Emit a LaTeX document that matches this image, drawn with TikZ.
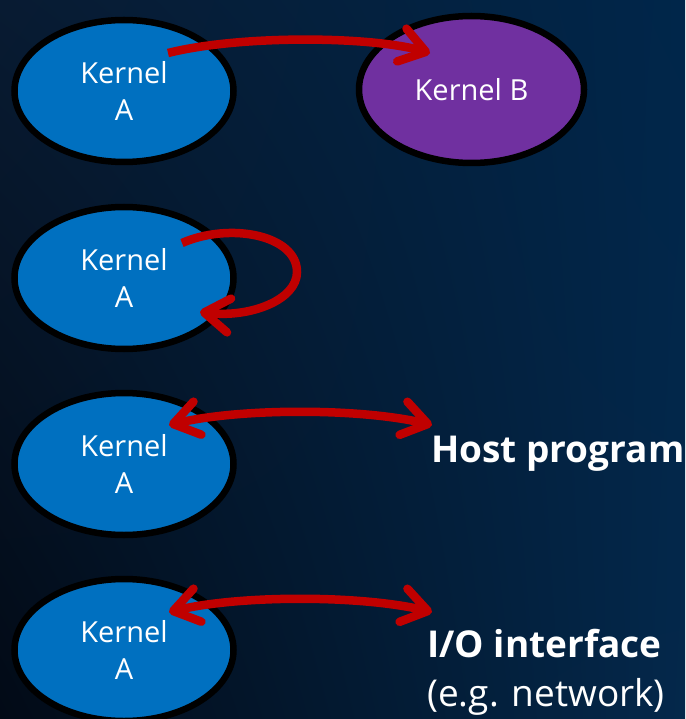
\documentclass[tikz,border=0pt]{standalone}
\usepackage{fontspec}
\setmainfont{Open Sans}
\usetikzlibrary{shapes.geometric,arrows.meta,shadings}
\definecolor{kblue}{HTML}{0070C0}
\definecolor{kpurple}{HTML}{7030A0}
\definecolor{ared}{HTML}{C00000}
\definecolor{bgul}{RGB}{8,27,50}
\definecolor{bgur}{RGB}{0,38,74}
\definecolor{bgll}{RGB}{2,10,22}
\definecolor{bglr}{RGB}{4,40,75}
\begin{document}
\begin{tikzpicture}[x=1pt,y=-1pt,
  kern/.style={ellipse,draw=black,line width=6.5pt,fill=kblue,text=white,inner sep=0pt,
    minimum width=219pt,minimum height=142pt,align=center,
    font=\fontsize{29}{37}\selectfont},
  flow/.style={draw=ared,line width=8.5pt,
    >={Straight Barb[length=25pt,width=34pt,round,line width=8.5pt]}},
  txtlabel/.style={anchor=base west,text=white,inner sep=0pt},
  boldlabel/.style={txtlabel,font=\bfseries\fontsize{37}{45}\selectfont},
  plainlabel/.style={txtlabel,font=\fontsize{37}{45}\selectfont}]
\useasboundingbox (0,0) rectangle (685,719);
\shade[upper left=bgul,upper right=bgur,lower left=bgll,lower right=bglr]
  (0,0) rectangle (685,719);

% nodes
\node[kern] (ka1) at (124,91) {Kernel\\A};
\node[kern,fill=kpurple,minimum width=225pt,minimum height=147pt] (kb) at (471.5,89.5) {Kernel B};
\node[kern] (ka2) at (124,278) {Kernel\\A};
\node[kern] (ka3) at (124,464) {Kernel\\A};
\node[kern] (ka4) at (124,650) {Kernel\\A};

\node[boldlabel] (host) at (431,462) {Host program};
\node[boldlabel] (io) at (427,657) {I/O interface};
\node[plainlabel] (ionet) at (427,706) {(e.g. network)};

% connector end points
\coordinate (s1) at (168,53);
\coordinate (e1) at (430,53);
\coordinate (s2) at (182,243);
\coordinate (m2) at (297,272);
\coordinate (e2) at (200,312);
\coordinate (s3) at (169,425);
\coordinate (e3) at (432,425);
\coordinate (s4) at (169,612);
\coordinate (e4) at (432,612);

% connectors
\draw[flow,->] (s1) .. controls (240,35) and (370,36) .. (e1);
\draw[flow,->] (s2) .. controls (230,222) and (297,235) .. (m2)
  .. controls (297,300) and (250,318) .. (e2);
\draw[flow,<->] (s3) .. controls (240,408) and (360,408) .. (e3);
\draw[flow,<->] (s4) .. controls (240,595) and (360,595) .. (e4);
\end{tikzpicture}
\end{document}
